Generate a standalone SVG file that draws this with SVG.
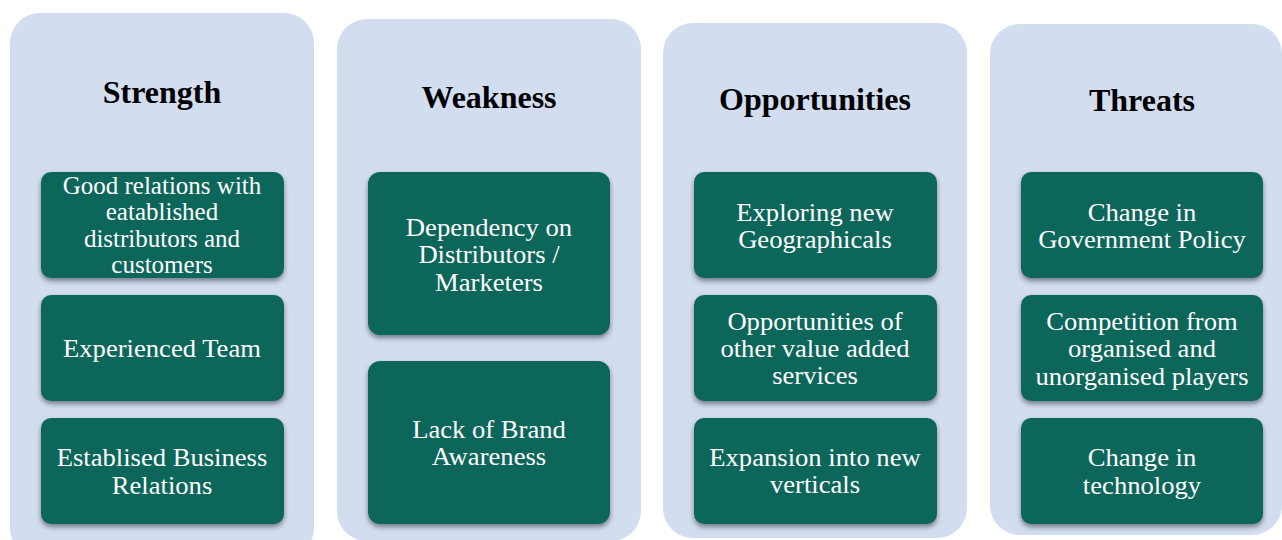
<svg xmlns="http://www.w3.org/2000/svg" width="1282" height="540" viewBox="0 0 1282 540">
<style>
.panel{fill:#D2DEEF}
.box{fill:#11665A;filter:url(#sh)}
.title{font-family:"Liberation Serif",serif;font-weight:bold;font-size:32px;fill:#000;text-anchor:middle}
.t{font-family:"Liberation Serif",serif;font-size:25px;fill:#fff;text-anchor:middle}
</style>
<defs>
<filter id="sh" x="-10%" y="-10%" width="120%" height="130%">
<feDropShadow dx="0" dy="3" stdDeviation="2.5" flood-color="#2a2a3a" flood-opacity="0.55"/>
</filter>
</defs>
<g id="strength">
<rect class="panel" x="10" y="13" width="304" height="545" rx="30"/>
<text class="title" x="162" y="103">Strength</text>
<rect class="box" x="41" y="172" width="243" height="106" rx="10"/>
<rect class="box" x="41" y="295" width="243" height="106" rx="10"/>
<rect class="box" x="41" y="418" width="243" height="106" rx="10"/>
<text class="t" x="162" y="194">Good relations with</text>
<text class="t" x="162" y="220">eatablished</text>
<text class="t" x="162" y="247">distributors and</text>
<text class="t" x="162" y="273">customers</text>
<g transform="matrix(1.065 0 0 1 -10.53 0)">
<text class="t" x="162" y="357">Experienced Team</text>
<text class="t" x="162" y="466">Establised Business</text>
<text class="t" x="162" y="494">Relations</text>
</g>
</g>
<g id="weakness">
<rect class="panel" x="337" y="19" width="304" height="522" rx="30"/>
<text class="title" x="489" y="108">Weakness</text>
<rect class="box" x="368" y="172" width="242" height="163" rx="12"/>
<rect class="box" x="368" y="361" width="242" height="163" rx="12"/>
<g transform="matrix(1.065 0 0 1 -31.785 0)">
<text class="t" x="489" y="236">Dependency on</text>
<text class="t" x="489" y="263">Distributors /</text>
<text class="t" x="489" y="291">Marketers</text>
<text class="t" x="489" y="438">Lack of Brand</text>
<text class="t" x="489" y="465">Awareness</text>
</g>
</g>
<g id="opportunities">
<rect class="panel" x="663" y="23" width="304" height="515" rx="30"/>
<text class="title" x="815" y="110">Opportunities</text>
<rect class="box" x="694" y="172" width="243" height="106" rx="10"/>
<rect class="box" x="694" y="295" width="243" height="106" rx="10"/>
<rect class="box" x="694" y="418" width="243" height="106" rx="10"/>
<g transform="matrix(1.065 0 0 1 -52.975 0)">
<text class="t" x="815" y="221">Exploring new</text>
<text class="t" x="815" y="248">Geographicals</text>
<text class="t" x="815" y="330">Opportunities of</text>
<text class="t" x="815" y="357">other value added</text>
<text class="t" x="815" y="384">services</text>
<text class="t" x="815" y="466">Expansion into new</text>
<text class="t" x="815" y="493">verticals</text>
</g>
</g>
<g id="threats">
<rect class="panel" x="990" y="24" width="292" height="511" rx="30"/>
<text class="title" x="1142" y="111">Threats</text>
<rect class="box" x="1021" y="172" width="242" height="106" rx="10"/>
<rect class="box" x="1021" y="295" width="242" height="106" rx="10"/>
<rect class="box" x="1021" y="418" width="242" height="106" rx="10"/>
<g transform="matrix(1.065 0 0 1 -74.23 0)">
<text class="t" x="1142" y="221">Change in</text>
<text class="t" x="1142" y="248">Government Policy</text>
<text class="t" x="1142" y="330">Competition from</text>
<text class="t" x="1142" y="357">organised and</text>
<text class="t" x="1142" y="385">unorganised players</text>
<text class="t" x="1142" y="466">Change in</text>
<text class="t" x="1142" y="494">technology</text>
</g>
</g>
<g id="connectors"/>
</svg>
